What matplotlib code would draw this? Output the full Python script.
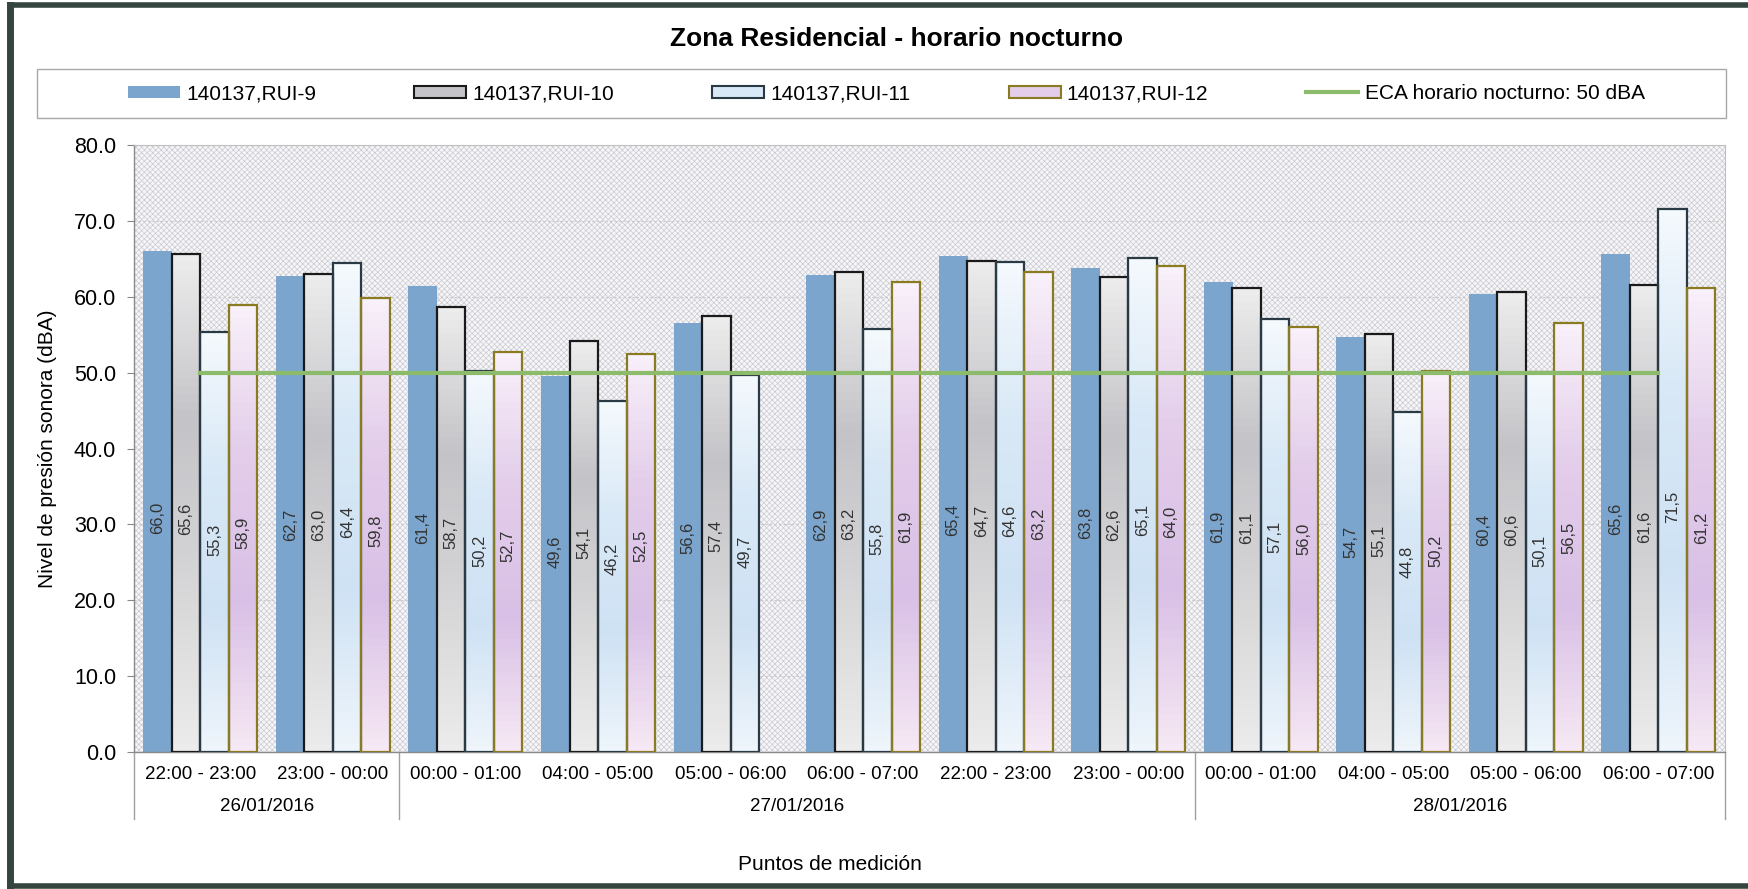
import numpy as np
import matplotlib
matplotlib.use("Agg")
import matplotlib.pyplot as plt
import matplotlib.patches as patches
from matplotlib.colors import LinearSegmentedColormap
from matplotlib.lines import Line2D
import matplotlib.transforms as mtransforms

plt.rcParams['font.family'] = ['Liberation Sans', 'DejaVu Sans']
plt.rcParams['hatch.linewidth'] = 0.5

# data
horas = ['22:00 - 23:00', '23:00 - 00:00', '00:00 - 01:00', '04:00 - 05:00',
         '05:00 - 06:00', '06:00 - 07:00', '22:00 - 23:00', '23:00 - 00:00',
         '00:00 - 01:00', '04:00 - 05:00', '05:00 - 06:00', '06:00 - 07:00']
fechas = ['26/01/2016', '27/01/2016', '28/01/2016']
n_por_fecha = [2, 6, 4]
series = ['140137,RUI-9', '140137,RUI-10', '140137,RUI-11', '140137,RUI-12']
rui9 = [66.0, 62.7, 61.4, 49.6, 56.6, 62.9, 65.4, 63.8, 61.9, 54.7, 60.4, 65.6]
rui10 = [65.6, 63.0, 58.7, 54.1, 57.4, 63.2, 64.7, 62.6, 61.1, 55.1, 60.6, 61.6]
rui11 = [55.3, 64.4, 50.2, 46.2, 49.7, 55.8, 64.6, 65.1, 57.1, 44.8, 50.1, 71.5]
rui12 = [58.9, 59.8, 52.7, 52.5, np.nan, 61.9, 63.2, 64.0, 56.0, 50.2, 56.5, 61.2]
eca_label = 'ECA horario nocturno: 50 dBA'
eca = [50.0] * len(horas)

valores = [rui9, rui10, rui11, rui12]

# fills: gradient stops (top -> bottom) and edge colours
grads = [
    ['#7ba5cd', '#7ba5cd'],
    ['#ececec', '#c4c4c8', '#d6d6d8', '#ececec'],
    ['#f4f9fd', '#d8e8f6', '#cfe2f4', '#eef5fb'],
    ['#f8f0fa', '#e3cdea', '#d9c0e6', '#f6e8f4'],
]
edges = [None, '#1a1a1a', '#2a3a44', '#8a7a20']

fig = plt.figure(figsize=(17.48, 8.89), dpi=100)
ax = fig.add_axes([0.0767, 0.154, 0.910, 0.683])

ax.patch.set_facecolor('#f6f6f8')
ax.patch.set_hatch('xxxxxx')
ax.patch.set_edgecolor('#cacad2')

x = np.arange(len(horas))
w = 0.215
offs = (np.arange(4) - 1.5) * w

for i, vals in enumerate(valores):
    cmap = LinearSegmentedColormap.from_list('g%d' % i, grads[i])
    grad = np.linspace(0, 1, 64).reshape(-1, 1)
    bars = ax.bar(x + offs[i], vals, w, color='none',
                  edgecolor=edges[i] if edges[i] else 'none',
                  linewidth=1.6 if edges[i] else 0, zorder=3)
    for b, v in zip(bars, vals):
        if np.isnan(v):
            continue
        x0 = b.get_x()
        im = ax.imshow(grad, cmap=cmap, aspect='auto', origin='upper',
                       extent=[x0, x0 + w, 0, v], zorder=2)
        im.set_clip_path(b)
        # labels sit a bit below mid-height, as in the original
        ax.text(x0 + w / 2, 12.8 + 0.273 * v, ('%.1f' % v).replace('.', ','),
                rotation=90, ha='center', va='center', fontsize=12,
                color='#333333', zorder=5)

ax.plot(x, eca, color='#8dbb6c', lw=3, zorder=4)

ax.set_xlim(-0.5, len(horas) - 0.5)
ax.set_ylim(0, 80)
ax.set_yticks(np.arange(0, 81, 10))
ax.set_yticklabels(['%.1f' % t for t in np.arange(0, 81, 10)], fontsize=15.5)
ax.yaxis.grid(True, color='#c8c8c8', lw=0.8, ls=(0, (2, 2)), zorder=1)
ax.set_axisbelow(True)
ax.tick_params(axis='y', length=5, color='#888888', pad=8)

ax.set_xticks(x)
ax.set_xticklabels(horas, fontsize=13.5)
ax.tick_params(axis='x', length=0, pad=10)

for s in ['top', 'right']:
    ax.spines[s].set_color('#c0c0c0')
    ax.spines[s].set_linewidth(0.8)
for s in ['left', 'bottom']:
    ax.spines[s].set_color('#8a8a8a')
    ax.spines[s].set_linewidth(1.0)

# date level of the category axis
trans = mtransforms.blended_transform_factory(ax.transData, ax.transAxes)
pos = -0.5
ax.plot([pos, pos], [0, -0.11], transform=trans, color='#a0a0a0', lw=1, clip_on=False)
for f, n in zip(fechas, n_por_fecha):
    ax.text(pos + n / 2, -0.09, f, transform=trans, ha='center', va='center', fontsize=13.5)
    pos += n
    ax.plot([pos, pos], [0, -0.11], transform=trans, color='#a0a0a0', lw=1, clip_on=False)

ax.set_ylabel('Nivel de presión sonora (dBA)', fontsize=15, labelpad=12)
fig.text(0.475, 0.028, 'Puntos de medición', ha='center', va='center', fontsize=15)
fig.text(0.513, 0.956, 'Zona Residencial - horario nocturno', ha='center', va='center',
         fontsize=19, fontweight='bold')

# legend frame drawn separately, entries centred inside it
fig.add_artist(patches.Rectangle((0.0212, 0.867), 0.966, 0.055, transform=fig.transFigure,
                                 facecolor='white', edgecolor='#a8a8a8', lw=1))
handles = []
for i in range(4):
    handles.append(patches.Rectangle((0, 0), 1, 1, facecolor=grads[i][1],
                                     edgecolor=edges[i] if edges[i] else 'none', lw=1.5))
handles.append(Line2D([0], [0], color='#8dbb6c', lw=3))
leg = fig.legend(handles, series + [eca_label], loc='center', ncol=5,
                 bbox_to_anchor=(0.507, 0.8945), fontsize=15, frameon=False,
                 handlelength=2.5, handleheight=0.55, handletextpad=0.3,
                 columnspacing=4.7, borderaxespad=0)

# outer frame of the scanned chart
fig.add_artist(Line2D([0.0055, 0.0055], [0.003, 0.994], color='#33453e', lw=5))
fig.add_artist(Line2D([0.0055, 1.0], [0.994, 0.994], color='#33453e', lw=4))
fig.add_artist(Line2D([0.0055, 1.0], [0.003, 0.003], color='#33453e', lw=4))

fig.savefig('out.png', dpi=100)
